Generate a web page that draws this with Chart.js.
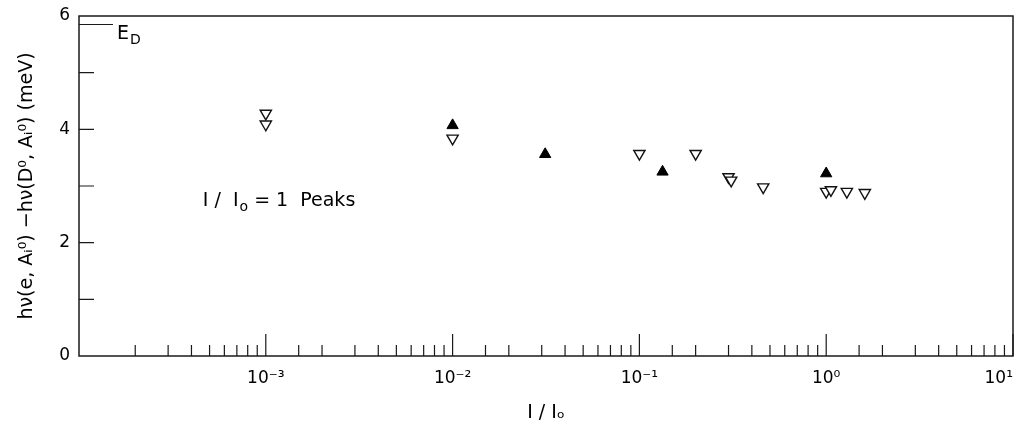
<!DOCTYPE html>
<html>
<head>
<meta charset="utf-8">
<script src="https://cdn.jsdelivr.net/npm/chart.js@4.4.1/dist/chart.umd.min.js"></script>
<style>
  html, body { margin: 0; padding: 0; background: #fff; }
  #wrap { width: 1015px; height: 424px; }
</style>
</head>
<body>
<div id="wrap"><canvas id="peaks"></canvas></div>
<script>
// I/Io ratio vs. energy difference (meV)
const openX = [0.001, 0.001, 0.01, 0.1, 0.2, 0.3, 0.31, 0.46, 1.0, 1.06, 1.29, 1.61];
const openY = [4.28, 4.09, 3.84, 3.57, 3.57, 3.16, 3.10, 2.98, 2.90, 2.93, 2.90, 2.88];
const filledX = [0.01, 0.0313, 0.133, 1.0];
const filledY = [4.07, 3.56, 3.25, 3.22];

// axis ticks
const xMajor = [1e-3, 1e-2, 1e-1, 1e0, 1e1];
const xMajorLabels = ['10\u207B\u00B3', '10\u207B\u00B2', '10\u207B\u00B9', '10\u2070', '10\u00B9'];
const yLabelled = [0, 2, 4, 6];
const yMinor = [1, 2, 3, 4, 5];

// E_D level marker and the "I/Io = 1 Peaks" note
const edLevel = 5.85;
const noteX = 4.6e-4, noteY = 2.65;

const FONT = "'DejaVu Sans', sans-serif";

function isMajor(v) {
    return xMajor.some(m => Math.abs(Math.log10(v) - Math.log10(m)) < 1e-6);
}

const framePlugin = {
    id: 'frame',
    beforeDatasetsDraw(chart) {
        const { ctx, chartArea: a, scales: { x, y } } = chart;
        ctx.save();
        ctx.strokeStyle = '#1a1a1a';
        ctx.lineWidth = 1.5;
        ctx.strokeRect(a.left, a.top, a.right - a.left, a.bottom - a.top);

        // inward tick marks
        ctx.lineWidth = 1.2;
        ctx.beginPath();
        x.ticks.forEach(t => {
            const px = x.getPixelForValue(t.value);
            if (px <= a.left + 1) return;
            const len = isMajor(t.value) ? 22 : 11;
            ctx.moveTo(px, a.bottom);
            ctx.lineTo(px, a.bottom - len);
        });
        yMinor.forEach(v => {
            const py = y.getPixelForValue(v);
            ctx.moveTo(a.left, py);
            ctx.lineTo(a.left + 15, py);
        });
        // E_D line
        const ey = y.getPixelForValue(edLevel);
        ctx.moveTo(a.left, ey);
        ctx.lineTo(a.left + 34, ey);
        ctx.stroke();

        ctx.fillStyle = '#000';
        ctx.textBaseline = 'alphabetic';
        ctx.font = '19px ' + FONT;
        ctx.fillText('E', a.left + 38, ey + 14);
        ctx.font = '14px ' + FONT;
        ctx.fillText('D', a.left + 51, ey + 19);

        // note
        let nx = x.getPixelForValue(noteX);
        const ny = y.getPixelForValue(noteY);
        ctx.font = '19px ' + FONT;
        ctx.fillText('I /  I', nx, ny);
        nx += ctx.measureText('I /  I').width + 1;
        ctx.font = '14px ' + FONT;
        ctx.fillText('o', nx, ny + 5);
        nx += ctx.measureText('o').width;
        ctx.font = '19px ' + FONT;
        ctx.fillText(' = 1  Peaks', nx, ny);
        ctx.restore();
    }
};

new Chart(document.getElementById('peaks'), {
    type: 'scatter',
    data: {
        datasets: [
            {
                label: 'open',
                data: openX.map((v, i) => ({ x: v, y: openY[i] })),
                pointStyle: 'triangle',
                rotation: 180,
                pointRadius: 6.5,
                backgroundColor: '#fff',
                borderColor: '#111',
                borderWidth: 1.4
            },
            {
                label: 'filled',
                data: filledX.map((v, i) => ({ x: v, y: filledY[i] })),
                pointStyle: 'triangle',
                pointRadius: 6.5,
                backgroundColor: '#000',
                borderColor: '#000',
                borderWidth: 1
            }
        ]
    },
    options: {
        responsive: true,
        maintainAspectRatio: false,
        animation: false,
        layout: { autoPadding: false, padding: { top: 16, right: 2, left: 0, bottom: 0 } },
        plugins: { legend: { display: false }, tooltip: { enabled: false } },
        scales: {
            x: {
                type: 'logarithmic',
                min: 1e-4,
                max: 10,
                grid: { display: false, drawTicks: true, tickLength: 12 },
                border: { display: false },
                ticks: {
                    autoSkip: false,
                    maxRotation: 0,
                    align: 'inner',
                    padding: 0,
                    color: '#000',
                    font: { family: FONT, size: 17 },
                    callback: function (v) {
                        const i = xMajor.findIndex(m => Math.abs(Math.log10(v) - Math.log10(m)) < 1e-6);
                        return i >= 0 ? xMajorLabels[i] : '';
                    }
                },
                title: {
                    display: true,
                    text: 'I / I\u2092',
                    color: '#000',
                    font: { family: FONT, size: 19 },
                    padding: { top: 2, bottom: 0 }
                },
                afterFit(s) { s.height = 68; s.paddingLeft = 0; s.paddingRight = 0; }
            },
            y: {
                min: 0,
                max: 6,
                grid: { display: false, drawTicks: false },
                border: { display: false },
                ticks: {
                    stepSize: 1,
                    padding: 9,
                    color: '#000',
                    font: { family: FONT, size: 17 },
                    callback: v => yLabelled.includes(v) ? String(v) : ''
                },
                title: {
                    display: true,
                    text: 'h\u03BD(e, A\u1D62\u2070) \u2212h\u03BD(D\u2070, A\u1D62\u2070) (meV)',
                    color: '#000',
                    font: { family: FONT, size: 19 },
                    padding: { top: 16, bottom: 0 }
                },
                afterFit(s) { s.width = 79; s.paddingTop = 0; s.paddingBottom = 0; }
            }
        }
    },
    plugins: [framePlugin]
});
</script>
</body>
</html>
